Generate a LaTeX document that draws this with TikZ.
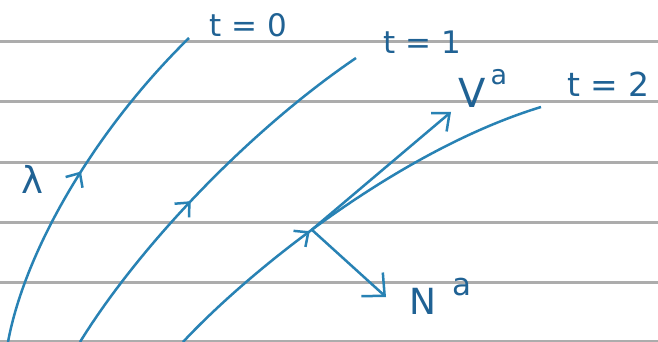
\documentclass[tikz,border=0pt]{standalone}
\usepackage{fontspec}
\setmainfont{DejaVu Sans}
\usetikzlibrary{positioning,arrows.meta,decorations.markings}
\definecolor{pen}{RGB}{40,130,180}
\definecolor{ink}{RGB}{32,98,148}
\definecolor{paperline}{RGB}{172,172,172}
\tikzset{
    ruling/.style = {
        draw=paperline,
        line width=3pt
    },
    worldline/.style = {
        color=pen,
        line width=2.5pt,
        postaction=decorate,
        decoration={markings,
            mark=at position #1 with {\arrow{Straight Barb[length=11pt,width=20pt]}}}
    },
    vec/.style = {
        draw=pen,
        line width=2.5pt,
        -{Straight Barb[length=14pt,width=24pt]}
    },
    lbl/.style = {
        text=ink,
        inner sep=0pt,
        anchor=base west
    },
}

\begin{document}
\begin{tikzpicture}[x=1pt,y=-1pt]
    \fill[white] (0,0) rectangle (658,342);
    \useasboundingbox (0,0) rectangle (658,342);

    % ruled paper
    \foreach \y in {42,102,162,222,282,341}
        \draw[ruling] (0,\y) -- (658,\y);

    % the three curves
    \draw[worldline=0.52] (8,342) .. controls (25,250) and (95,130) .. (189,38);
    \draw[worldline=0.45] (80,342) .. controls (140,245) and (250,130) .. (356,58);
    \draw[worldline=0.39] (183,342) .. controls (250,270) and (400,150) .. (541,107)
        coordinate[pos=0.44] (p);

    % vectors
    \coordinate (vtip) at (451,112);
    \coordinate (ntip) at (386,297);
    \draw[vec] (p) -- (vtip);
    \draw[vec, -{Straight Barb[length=17pt,width=32pt]}] (p) -- (ntip);

    % labels
    \node[lbl, font=\fontsize{37}{40}\selectfont] (lambda) at (21,193) {λ};
    \node[lbl, font=\fontsize{31}{34}\selectfont] (tzero) at (209,37) {t = 0};
    \node[lbl, font=\fontsize{31}{34}\selectfont] (tone) at (383,54) {t = 1};
    \node[lbl, font=\fontsize{33}{36}\selectfont] (ttwo) at (567,97) {t = 2};
    \node[lbl, font=\fontsize{40}{44}\selectfont] (vlabel) at (458,107)
        {V\kern5pt\raisebox{22pt}{\fontsize{27}{30}\selectfont a}};
    \node[lbl, font=\fontsize{36}{40}\selectfont] (nlabel) at (409,314)
        {N\kern16pt\raisebox{19pt}{\fontsize{31}{34}\selectfont a}};
\end{tikzpicture}
\end{document}
